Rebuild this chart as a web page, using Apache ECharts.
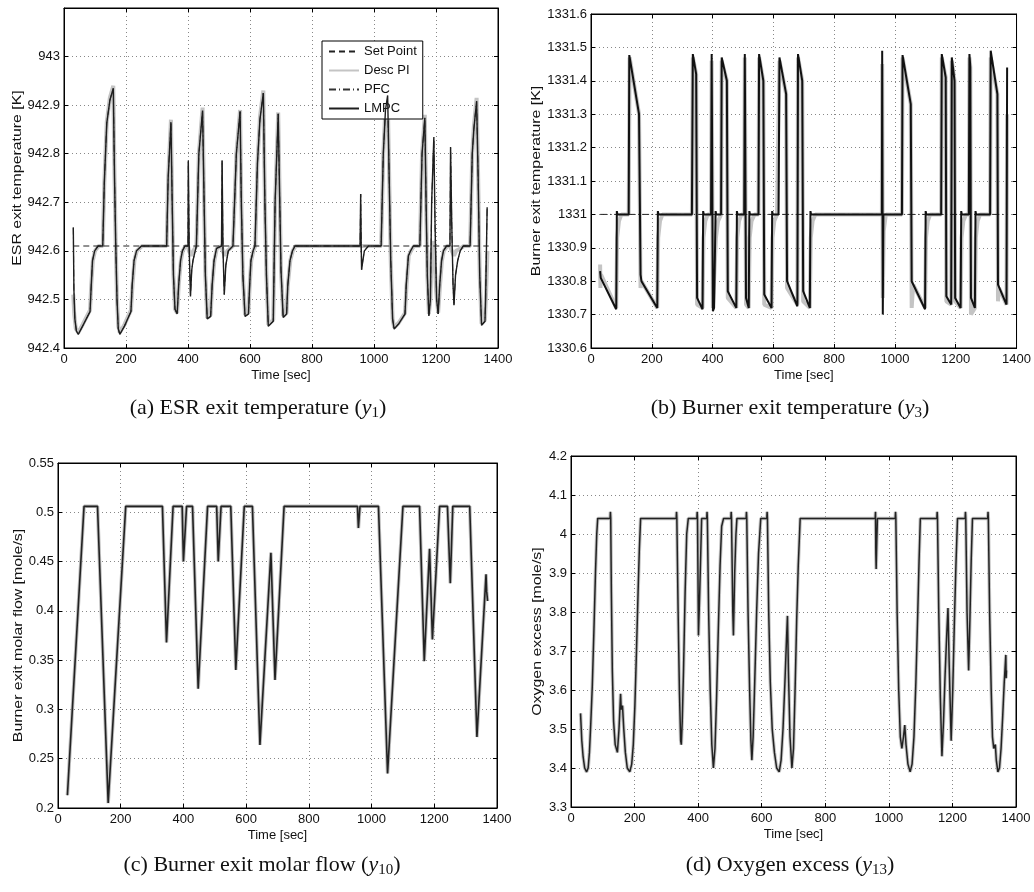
<!DOCTYPE html>
<html><head><meta charset="utf-8">
<script src="https://cdn.jsdelivr.net/npm/echarts@6/dist/echarts.min.js"></script>
<style>html,body{margin:0;padding:0;background:#fff}#c{width:1034px;height:892px}</style>
</head><body><div id="c"></div>
<script>
// ---------- (a) ESR exit temperature ----------
const aSetPoint = [[30, 942.61], [1370, 942.61]];
const aLMPC = [[30,942.648],[32,942.52],[35,942.46],[40,942.435],[46,942.428],[60,942.445],[84,942.475],[88,942.53],[92,942.58],[99,942.60],[110,942.61],[125,942.61],[130,942.74],[138,942.863],[148,942.91],[159,942.935],[163,942.75],[167,942.61],[171,942.5],[175,942.44],[180,942.428],[195,942.445],[216,942.475],[220,942.53],[226,942.58],[234,942.60],[250,942.61],[331,942.61],[336,942.75],[345,942.865],[349,942.7],[353,942.55],[358,942.48],[365,942.47],[370,942.53],[376,942.58],[382,942.6],[390,942.61],[400,942.61],[401,942.786],[404,942.6],[408,942.506],[412,942.56],[416,942.58],[427,942.61],[435,942.8],[447,942.889],[452,942.7],[456,942.55],[462,942.46],[473,942.465],[478,942.53],[484,942.58],[492,942.605],[508,942.61],[510,942.786],[513,942.6],[517,942.51],[522,942.57],[530,942.6],[545,942.61],[556,942.8],[568,942.887],[572,942.7],[577,942.55],[584,942.465],[595,942.47],[599,942.53],[603,942.58],[610,942.6],[616,942.61],[624,942.78],[632,942.87],[643,942.925],[648,942.7],[653,942.55],[659,942.445],[675,942.455],[681,942.7],[691,942.882],[696,942.7],[700,942.56],[707,942.463],[718,942.47],[722,942.53],[729,942.58],[737,942.6],[745,942.61],[955,942.61],[957,942.717],[959,942.6],[960,942.561],[964,942.58],[969,942.6],[982,942.61],[1023,942.61],[1030,942.8],[1037,942.89],[1044,942.92],[1049,942.75],[1054,942.58],[1060,942.46],[1065,942.439],[1080,942.45],[1100,942.47],[1104,942.53],[1111,942.59],[1118,942.6],[1127,942.61],[1148,942.61],[1155,942.8],[1164,942.874],[1168,942.7],[1172,942.55],[1177,942.466],[1182,942.5],[1186,942.7],[1193,942.834],[1197,942.65],[1202,942.5],[1207,942.47],[1212,942.53],[1218,942.58],[1224,942.6],[1234,942.61],[1245,942.61],[1247,942.814],[1251,942.65],[1255,942.53],[1258,942.488],[1263,942.55],[1270,942.58],[1278,942.6],[1288,942.61],[1310,942.61],[1317,942.8],[1322,942.85],[1331,942.908],[1336,942.75],[1341,942.55],[1347,942.447],[1358,942.455],[1360,942.5],[1365,942.69],[1366,942.69]];
const aDescPI = [[30,942.51],[33,942.47],[38,942.44],[46,942.432],[60,942.448],[84,942.478],[88,942.53],[93,942.58],[100,942.60],[112,942.61],[125,942.61],[130,942.74],[138,942.866],[148,942.915],[159,942.94],[163,942.75],[167,942.61],[171,942.5],[175,942.445],[180,942.432],[195,942.448],[216,942.478],[221,942.53],[227,942.58],[235,942.60],[252,942.61],[331,942.61],[336,942.75],[345,942.87],[349,942.7],[353,942.55],[358,942.48],[365,942.472],[370,942.53],[377,942.58],[383,942.6],[392,942.61],[400,942.61],[403,942.6],[410,942.59],[417,942.6],[427,942.61],[435,942.8],[447,942.895],[452,942.7],[456,942.55],[462,942.462],[473,942.468],[478,942.53],[485,942.58],[493,942.605],[508,942.61],[512,942.6],[519,942.59],[527,942.6],[545,942.61],[556,942.8],[568,942.89],[572,942.7],[577,942.55],[584,942.468],[595,942.473],[599,942.53],[604,942.58],[611,942.6],[617,942.61],[624,942.78],[632,942.875],[643,942.93],[648,942.7],[653,942.55],[659,942.448],[675,942.458],[681,942.7],[691,942.885],[696,942.7],[700,942.56],[707,942.466],[718,942.472],[722,942.53],[730,942.58],[738,942.6],[747,942.61],[1023,942.61],[1030,942.8],[1037,942.895],[1044,942.925],[1049,942.75],[1054,942.58],[1060,942.46],[1065,942.442],[1080,942.452],[1100,942.472],[1105,942.53],[1112,942.59],[1119,942.6],[1129,942.61],[1148,942.61],[1155,942.8],[1164,942.88],[1168,942.7],[1172,942.55],[1177,942.47],[1182,942.5],[1186,942.6],[1193,942.62],[1200,942.52],[1207,942.473],[1213,942.53],[1219,942.58],[1225,942.6],[1236,942.61],[1245,942.61],[1251,942.6],[1258,942.59],[1265,942.6],[1279,942.605],[1290,942.61],[1310,942.61],[1317,942.8],[1322,942.855],[1331,942.915],[1336,942.75],[1341,942.55],[1347,942.45],[1358,942.458],[1362,942.52],[1366,942.6]];
// ---------- (b) Burner exit temperature ----------
const bSetPoint = [[30, 1331.0], [1370, 1331.0]];
const bLMPC = [[30,1330.83],[32,1330.81],[83,1330.716],[85,1331.01],[87,1331.0],[124,1331.0],[126,1331.477],[158,1331.30],[163,1330.82],[166,1330.8],[218,1330.72],[220,1331.01],[222,1331.0],[332,1331.0],[335,1331.48],[346,1331.42],[349,1330.75],[367,1330.716],[369,1331.01],[371,1331.0],[395,1331.0],[397,1331.48],[401,1330.71],[405,1330.72],[410,1331.01],[412,1331.0],[428,1331.0],[430,1331.47],[447,1331.4],[450,1330.77],[478,1330.72],[480,1331.01],[482,1331.0],[504,1331.0],[506,1331.48],[510,1330.75],[519,1330.72],[521,1331.01],[523,1331.0],[551,1331.0],[553,1331.48],[567,1331.4],[570,1330.76],[594,1330.72],[596,1331.01],[598,1331.0],[617,1331.0],[620,1331.47],[642,1331.36],[645,1330.8],[679,1330.725],[681,1331.48],[695,1331.4],[698,1330.77],[720,1330.72],[722,1331.01],[724,1331.0],[957,1331.0],[958,1331.49],[960,1330.7],[962,1331.0],[1023,1331.0],[1025,1331.477],[1052,1331.33],[1055,1330.8],[1099,1330.716],[1101,1331.01],[1103,1331.0],[1152,1331.0],[1154,1331.48],[1167,1331.41],[1169,1330.755],[1185,1330.73],[1187,1331.47],[1196,1331.4],[1198,1330.75],[1216,1330.72],[1218,1331.01],[1220,1331.0],[1243,1331.0],[1245,1331.48],[1248,1331.44],[1250,1330.75],[1263,1330.72],[1265,1331.01],[1267,1331.0],[1313,1331.0],[1315,1331.49],[1337,1331.36],[1339,1330.79],[1367,1330.73],[1369,1331.44]];
const bDescPI = [[30,1330.85],[31,1330.78],[33,1330.82],[83,1330.72],[86,1330.93],[92,1330.98],[100,1331.0],[124,1331.0],[127,1331.47],[158,1331.30],[163,1330.78],[166,1330.8],[218,1330.72],[221,1330.93],[227,1330.98],[235,1331.0],[332,1331.0],[335,1331.47],[346,1331.42],[349,1330.73],[367,1330.72],[370,1330.93],[376,1330.98],[384,1331.0],[395,1331.0],[397,1331.46],[401,1330.72],[411,1330.93],[418,1330.98],[428,1331.0],[430,1331.46],[447,1331.4],[450,1330.75],[478,1330.72],[481,1330.93],[487,1330.98],[495,1331.0],[504,1331.0],[506,1331.47],[510,1330.73],[519,1330.72],[522,1330.93],[528,1330.98],[538,1331.0],[551,1331.0],[553,1331.47],[567,1331.4],[570,1330.73],[594,1330.72],[597,1330.93],[603,1330.98],[612,1331.0],[617,1331.0],[620,1331.46],[642,1331.36],[645,1330.78],[679,1330.73],[681,1331.47],[695,1331.4],[698,1330.74],[720,1330.72],[723,1330.93],[729,1330.98],[738,1331.0],[957,1331.0],[958,1331.45],[960,1330.75],[963,1330.95],[970,1331.0],[1023,1331.0],[1025,1331.47],[1052,1331.33],[1055,1330.72],[1060,1330.79],[1099,1330.72],[1102,1330.93],[1108,1330.98],[1116,1331.0],[1152,1331.0],[1154,1331.47],[1167,1331.41],[1169,1330.74],[1185,1330.73],[1187,1331.46],[1196,1331.4],[1198,1330.74],[1216,1330.72],[1219,1330.93],[1225,1330.98],[1234,1331.0],[1243,1331.0],[1245,1331.47],[1248,1331.44],[1250,1330.7],[1263,1330.72],[1266,1330.93],[1272,1330.98],[1280,1331.0],[1313,1331.0],[1315,1331.47],[1337,1331.36],[1339,1330.74],[1342,1330.78],[1367,1330.73],[1369,1331.3]];
// ---------- (c) Burner exit molar flow ----------
const cLMPC = [[30,0.213],[83,0.506],[126,0.506],[160,0.205],[216,0.506],[333,0.506],[346,0.368],[367,0.506],[396,0.506],[400,0.45],[410,0.506],[429,0.506],[447,0.321],[477,0.506],[506,0.506],[511,0.45],[520,0.506],[551,0.506],[567,0.34],[594,0.506],[620,0.506],[644,0.264],[679,0.459],[692,0.33],[721,0.506],[955,0.506],[958,0.484],[963,0.506],[1022,0.506],[1051,0.235],[1100,0.506],[1153,0.506],[1168,0.349],[1185,0.463],[1194,0.371],[1217,0.506],[1242,0.506],[1251,0.428],[1259,0.506],[1313,0.506],[1336,0.272],[1365,0.437],[1367,0.42],[1370,0.41]];
// ---------- (d) Oxygen excess ----------
const dLMPC = [[30,3.54],[34,3.47],[38,3.43],[43,3.40],[49,3.39],[54,3.40],[58,3.44],[62,3.51],[67,3.61],[72,3.75],[77,3.9],[81,4.0],[84,4.04],[123,4.04],[124,4.057],[125,4.04],[127,3.85],[130,3.65],[134,3.52],[139,3.46],[146,3.44],[151,3.5],[156,3.59],[158,3.55],[162,3.56],[166,3.5],[171,3.44],[177,3.40],[185,3.39],[191,3.41],[196,3.46],[201,3.56],[206,3.7],[211,3.85],[215,3.96],[219,4.04],[331,4.04],[332,4.057],[333,4.04],[337,3.8],[341,3.6],[345,3.47],[347,3.46],[350,3.52],[354,3.65],[359,3.85],[364,4.0],[369,4.04],[396,4.04],[397,4.057],[398,4.04],[401,3.74],[405,3.85],[411,4.04],[427,4.04],[428,4.057],[429,4.04],[433,3.8],[438,3.6],[443,3.46],[448,3.40],[453,3.45],[458,3.58],[463,3.74],[469,3.92],[474,4.02],[480,4.04],[503,4.04],[504,4.057],[505,4.04],[509,3.8],[511,3.74],[515,3.9],[519,4.0],[522,4.04],[551,4.04],[552,4.057],[553,4.04],[557,3.8],[562,3.6],[566,3.47],[569,3.42],[573,3.48],[578,3.62],[584,3.8],[590,3.95],[597,4.04],[616,4.04],[617,4.057],[618,4.04],[622,3.8],[627,3.62],[633,3.5],[640,3.44],[647,3.40],[655,3.39],[661,3.42],[667,3.5],[673,3.62],[678,3.73],[681,3.79],[684,3.65],[689,3.48],[695,3.40],[700,3.45],[705,3.6],[710,3.78],[715,3.92],[721,4.04],[957,4.04],[958,4.057],[959,3.95],[960,3.91],[962,3.98],[964,4.04],[1020,4.04],[1021,4.057],[1022,4.04],[1026,3.8],[1031,3.6],[1036,3.48],[1041,3.45],[1046,3.48],[1050,3.51],[1054,3.46],[1060,3.41],[1067,3.39],[1073,3.41],[1079,3.48],[1085,3.62],[1091,3.8],[1095,3.93],[1099,4.04],[1151,4.04],[1152,4.057],[1153,4.04],[1157,3.8],[1162,3.58],[1167,3.43],[1172,3.52],[1177,3.64],[1182,3.74],[1186,3.81],[1190,3.66],[1196,3.47],[1201,3.6],[1206,3.77],[1211,3.92],[1216,4.04],[1240,4.04],[1241,4.057],[1242,4.04],[1246,3.8],[1251,3.65],[1255,3.78],[1259,3.93],[1263,4.04],[1311,4.04],[1312,4.057],[1313,4.04],[1317,3.8],[1322,3.6],[1326,3.48],[1330,3.45],[1335,3.46],[1338,3.42],[1343,3.39],[1348,3.40],[1353,3.45],[1358,3.53],[1363,3.62],[1368,3.69],[1369,3.63],[1370,3.65]];

const xTicks = {min: 0, max: 1400, interval: 200};
const yAxes = [
  {name: 'ESR exit temperature [K]', min: 942.4, max: 943.1, interval: 0.1, hideAbove: 943.05},
  {name: 'Burner exit temperature [K]', min: 1330.6, max: 1331.6, interval: 0.1, hideAbove: 9999},
  {name: 'Burner exit molar flow [mole/s]', min: 0.2, max: 0.55, interval: 0.05, hideAbove: 9999},
  {name: 'Oxygen excess [mole/s]', min: 3.3, max: 4.2, interval: 0.1, hideAbove: 9999}
];
const captions = [
  {letter: '(a) ESR exit temperature (', sub: '1'},
  {letter: '(b) Burner exit temperature (', sub: '3'},
  {letter: '(c) Burner exit molar flow (', sub: '10'},
  {letter: '(d) Oxygen excess (', sub: '13'}
];

const gridsPx = [
  {left: 64, top: 8, width: 434, height: 340},
  {left: 591, top: 14, width: 426, height: 334},
  {left: 58, top: 463, width: 439, height: 345},
  {left: 571, top: 456, width: 445, height: 351}
];
const capPos = [[258, 408], [790, 408], [262, 865], [790, 865]];
const yNameX = [17, 536, 18, 537];

const FONT = 'Liberation Sans';
const fmt = v => String(parseFloat(v.toFixed(3)));
const splitStyle = {show: true, lineStyle: {color: '#888', type: [1, 3], width: 1}};

const grid = [], xAxis = [], yAxis = [], series = [], graphic = [];
gridsPx.forEach((g, i) => {
  grid.push(Object.assign({containLabel: false, show: true, borderColor: '#000', borderWidth: 1, backgroundColor: '#fff'}, g));
  const ya = yAxes[i];
  xAxis.push({type: 'value', gridIndex: i, min: xTicks.min, max: xTicks.max, interval: xTicks.interval,
    name: 'Time [sec]', nameLocation: 'middle', nameGap: 21,
    nameTextStyle: {fontFamily: FONT, fontSize: 13, color: '#111'},
    axisLine: {show: true, onZero: false, lineStyle: {color: '#000', width: 1}},
    axisTick: {show: true, inside: true, length: 4, lineStyle: {color: '#000'}},
    axisLabel: {fontFamily: FONT, fontSize: 13, color: '#111', margin: 5, formatter: fmt},
    splitLine: splitStyle});
  xAxis.push({type: 'value', gridIndex: i, position: 'top', min: xTicks.min, max: xTicks.max, interval: xTicks.interval,
    axisLine: {show: true, onZero: false, lineStyle: {color: '#000'}},
    axisTick: {show: true, inside: true, length: 4, lineStyle: {color: '#000'}},
    axisLabel: {show: false}, splitLine: {show: false}});
  yAxis.push({type: 'value', gridIndex: i, min: ya.min, max: ya.max, interval: ya.interval,
    axisLine: {show: true, onZero: false, lineStyle: {color: '#000', width: 1}},
    axisTick: {show: true, inside: true, length: 4, lineStyle: {color: '#000'}},
    axisLabel: {fontFamily: FONT, fontSize: 13, color: '#111', margin: 4,
      formatter: v => (v > ya.hideAbove ? '' : fmt(v))},
    splitLine: splitStyle});
  yAxis.push({type: 'value', gridIndex: i, position: 'right', min: ya.min, max: ya.max, interval: ya.interval,
    axisLine: {show: true, onZero: false, lineStyle: {color: '#000'}},
    axisTick: {show: true, inside: true, length: 4, lineStyle: {color: '#000'}},
    axisLabel: {show: false}, splitLine: {show: false}});
  // y-axis title (stretched along its length like the reference)
  graphic.push({type: 'text', x: yNameX[i], y: g.top + g.height / 2, rotation: Math.PI / 2, scaleX: 1.22,
    style: {text: ya.name, align: 'center', verticalAlign: 'middle', fontFamily: FONT, fontSize: 13, fill: '#111'}});
  const c = captions[i];
  graphic.push({type: 'text', x: capPos[i][0], y: capPos[i][1],
    style: {text: c.letter + '{i|y}{s|' + c.sub + '}' + ')', align: 'center', verticalAlign: 'middle',
      fontFamily: 'Liberation Serif', fontSize: 22, fill: '#111',
      rich: {i: {fontFamily: 'Liberation Serif', fontSize: 22, fontStyle: 'italic', fill: '#111'},
             s: {fontFamily: 'Liberation Serif', fontSize: 15, fill: '#111', padding: [10, 0, 0, 0]}}}});
});

const base = {type: 'line', showSymbol: false, symbol: 'none', animation: false, silent: true};
function addSeries(i, name, data, style, z) {
  series.push(Object.assign({}, base, {name: name, xAxisIndex: 2 * i, yAxisIndex: 2 * i, data: data,
    lineStyle: style, itemStyle: {color: style.color}, z: z}));
}
const sDesc = {color: '#c4c4c4', width: 4};
const sLMPC = {color: '#1e1e1e', width: 1.4};
const sSet = {color: '#222', width: 1, type: [6, 4]};
const sPFC = {color: '#333', width: 1, type: [7, 3, 1, 3]};

addSeries(0, 'Desc PI', aDescPI, sDesc, 2);
addSeries(0, 'Set Point', aSetPoint, sSet, 3);
addSeries(0, 'PFC', aLMPC, sPFC, 3);
addSeries(0, 'LMPC', aLMPC, sLMPC, 4);

addSeries(1, 'Desc PI b', bDescPI, sDesc, 2);
addSeries(1, 'Set Point b', bSetPoint, {color: '#222', width: 1, type: [7, 3, 1, 3]}, 3);
addSeries(1, 'LMPC b', bLMPC, {color: '#111', width: 2}, 4);

addSeries(2, 'Desc PI c', cLMPC, {color: '#bdbdbd', width: 3.5}, 2);
addSeries(2, 'LMPC c', cLMPC, {color: '#222', width: 1.6}, 4);

addSeries(3, 'Desc PI d', dLMPC, {color: '#c4c4c4', width: 3.5}, 2);
addSeries(3, 'LMPC d', dLMPC, {color: '#222', width: 1.5}, 4);

const chart = echarts.init(document.getElementById('c'), null, {renderer: 'canvas'});
chart.setOption({
  animation: false,
  backgroundColor: '#fff',
  grid: grid, xAxis: xAxis, yAxis: yAxis, series: series, graphic: graphic,
  legend: {data: ['Set Point', 'Desc PI', 'PFC', 'LMPC'], orient: 'vertical', left: 322, top: 41,
    itemWidth: 30, itemHeight: 10, itemGap: 6, padding: [4, 6, 4, 6], selectedMode: false,
    itemStyle: {opacity: 0},
    backgroundColor: '#fff', borderColor: '#000', borderWidth: 1,
    textStyle: {fontFamily: FONT, fontSize: 13, color: '#111'}}
});
</script></body></html>
